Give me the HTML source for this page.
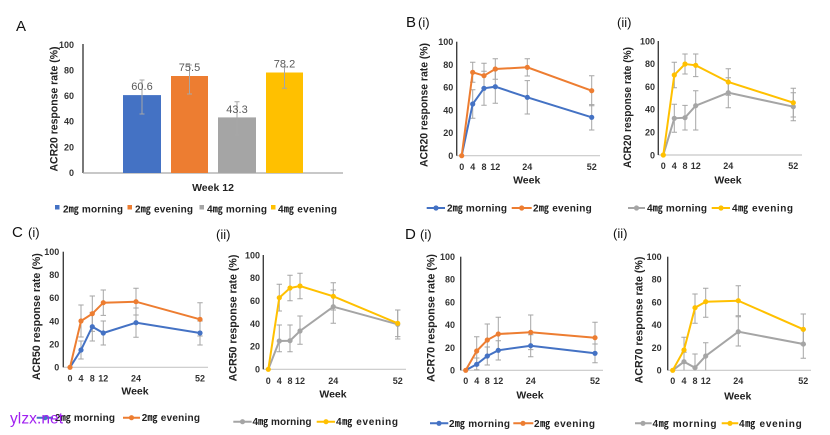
<!DOCTYPE html>
<html><head><meta charset="utf-8"><style>
html,body{margin:0;padding:0;background:#fff;}
svg{display:block;}
text{font-family:"Liberation Sans","Noto Sans CJK JP",sans-serif;}
.tk{font-size:9px;font-weight:bold;fill:#333;}
.yt{font-size:11px;font-weight:bold;fill:#222;}
.wk{font-size:10.5px;font-weight:bold;fill:#222;}
.lg{font-size:10px;font-weight:bold;fill:#222;}
.pl{font-size:15px;fill:#111;}
.pls{font-size:13px;fill:#111;}
.eb{stroke:#a6a6a6;stroke-width:1;fill:none;}
.ya{stroke:#404040;stroke-width:1.4;}
.xa{stroke:#c8c8c8;stroke-width:1.2;}
.vl{font-size:11px;fill:#595959;}
</style></head><body>
<svg width="830" height="435" viewBox="0 0 830 435" xmlns="http://www.w3.org/2000/svg">
<rect width="830" height="435" fill="#fff"/>

<!-- ===== Panel A ===== -->
<text class="pl" x="16" y="31">A</text>
<line class="ya" x1="83" y1="44" x2="83" y2="173"/>
<line x1="83" y1="173" x2="343" y2="173" stroke="#a6a6a6" stroke-width="1.2"/>
<g class="tk" text-anchor="end">
<text x="74" y="48">100</text><text x="74" y="73.5">80</text><text x="74" y="99">60</text>
<text x="74" y="124.7">40</text><text x="74" y="150.4">20</text><text x="74" y="176">0</text>
</g>
<text class="yt" transform="translate(57.5,109) rotate(-90)" text-anchor="middle" textLength="125" lengthAdjust="spacingAndGlyphs">ACR20 response rate (%)</text>
<rect x="123" y="95.1" width="38" height="77.9" fill="#4472c4"/>
<rect x="171" y="76" width="37" height="97" fill="#ed7d31"/>
<rect x="218" y="117.4" width="38" height="55.6" fill="#a5a5a5"/>
<rect x="266" y="72.5" width="37" height="100.5" fill="#ffc000"/>
<path class="eb" stroke="#707070" d="M142 80V114M139.5 80H144.5M139.5 114H144.5M189.5 65V94M187 65H192M187 94H192M237 101.7V135M234.5 101.7H239.5M234.5 135H239.5M284.5 67V88.3M282 67H287M282 88.3H287"/>
<g class="vl" text-anchor="middle">
<text x="142" y="90">60.6</text><text x="189.5" y="71">75.5</text><text x="237" y="113">43.3</text><text x="284.5" y="67.5">78.2</text>
</g>
<text class="wk" x="213" y="191" text-anchor="middle">Week 12</text>
<rect x="55" y="205" width="4.5" height="4.5" fill="#4472c4"/>
<text class="lg" x="63" y="212.5" textLength="60">2㎎ morning</text>
<rect x="127.5" y="205" width="4.5" height="4.5" fill="#ed7d31"/>
<text class="lg" x="135" y="212.5" textLength="58">2㎎ evening</text>
<rect x="199.5" y="205" width="4.5" height="4.5" fill="#a5a5a5"/>
<text class="lg" x="207" y="212.5" textLength="60">4㎎ morning</text>
<rect x="271" y="205" width="4.5" height="4.5" fill="#ffc000"/>
<text class="lg" x="278" y="212.5" textLength="59">4㎎ evening</text>

<!-- ===== Panel B(i) ===== -->
<text class="pl" x="406" y="27">B</text><text class="pls" x="418" y="27">(i)</text>
<line class="xa" x1="456.7" y1="155.7" x2="600" y2="155.7"/>
<line class="ya" x1="456.7" y1="41.7" x2="456.7" y2="155.7"/>
<g class="tk" text-anchor="end">
<text x="453.3" y="45">100</text><text x="453.3" y="67.8">80</text><text x="453.3" y="90.6">60</text>
<text x="453.3" y="113.4">40</text><text x="453.3" y="136.2">20</text><text x="453.3" y="159">0</text>
</g>
<g class="tk" text-anchor="middle">
<text x="461.7" y="170">0</text><text x="472.7" y="170">4</text><text x="484" y="170">8</text>
<text x="495.3" y="170">12</text><text x="527.3" y="170">24</text><text x="591.7" y="170">52</text>
</g>
<text class="wk" x="526.7" y="183.7" text-anchor="middle">Week</text>
<text class="yt" transform="translate(427.5,105) rotate(-90)" text-anchor="middle" textLength="124" lengthAdjust="spacingAndGlyphs">ACR20 response rate (%)</text>
<path class="eb" d="M472.7 62.3V82.3M470 62.3H475.4M470 82.3H475.4M484 63.3V88M481.3 63.3H486.7M481.3 88H486.7M495.3 58.7V79.3M492.6 58.7H498M492.6 79.3H498M527.3 58.7V76M524.6 58.7H530M524.6 76H530M591.7 75.7V105.7M589 75.7H594.4M589 105.7H594.4"/>
<path class="eb" d="M472.7 89.7V118.3M470 89.7H475.4M470 118.3H475.4M484 71.3V105.3M481.3 71.3H486.7M481.3 105.3H486.7M495.3 70V103.3M492.6 70H498M492.6 103.3H498M527.3 80.6V114M524.6 80.6H530M524.6 114H530M591.7 104.6V130M589 104.6H594.4M589 130H594.4"/>
<polyline fill="none" stroke="#4472c4" stroke-width="2" points="461.7,155.7 472.7,104 484,88.3 495.3,86.7 527.3,97.3 591.7,117.3"/>
<polyline fill="none" stroke="#ed7d31" stroke-width="2" points="461.7,155.7 472.7,72.3 484,75.7 495.3,69 527.3,67.3 591.7,90.7"/>
<g fill="#4472c4"><circle cx="472.7" cy="104" r="2.6"/><circle cx="484" cy="88.3" r="2.6"/><circle cx="495.3" cy="86.7" r="2.6"/><circle cx="527.3" cy="97.3" r="2.6"/><circle cx="591.7" cy="117.3" r="2.6"/></g>
<g fill="#ed7d31"><circle cx="461.7" cy="155.7" r="2.6"/><circle cx="472.7" cy="72.3" r="2.6"/><circle cx="484" cy="75.7" r="2.6"/><circle cx="495.3" cy="69" r="2.6"/><circle cx="527.3" cy="67.3" r="2.6"/><circle cx="591.7" cy="90.7" r="2.6"/></g>
<line x1="426.7" y1="208" x2="445" y2="208" stroke="#4472c4" stroke-width="2"/><circle cx="436" cy="208" r="2.6" fill="#4472c4"/>
<text class="lg" x="447" y="211.5" textLength="60">2㎎ morning</text>
<line x1="511.7" y1="208" x2="531.7" y2="208" stroke="#ed7d31" stroke-width="2"/><circle cx="521.7" cy="208" r="2.6" fill="#ed7d31"/>
<text class="lg" x="533" y="211.5" textLength="58.7">2㎎ evening</text>

<!-- ===== Panel B(ii) ===== -->
<text class="pls" x="617" y="27">(ii)</text>
<line class="xa" x1="658.3" y1="155" x2="802" y2="155"/>
<line class="ya" x1="658.3" y1="41" x2="658.3" y2="155"/>
<g class="tk" text-anchor="end">
<text x="655" y="44.3">100</text><text x="655" y="67.1">80</text><text x="655" y="89.9">60</text>
<text x="655" y="112.7">40</text><text x="655" y="135.5">20</text><text x="655" y="158.3">0</text>
</g>
<g class="tk" text-anchor="middle">
<text x="663.3" y="169">0</text><text x="674.3" y="169">4</text><text x="685" y="169">8</text>
<text x="695.7" y="169">12</text><text x="728.3" y="169">24</text><text x="793.3" y="169">52</text>
</g>
<text class="wk" x="728" y="183.7" text-anchor="middle">Week</text>
<text class="yt" transform="translate(631,107.5) rotate(-90)" text-anchor="middle" textLength="121" lengthAdjust="spacingAndGlyphs">ACR20 response rate (%)</text>
<path class="eb" d="M674.3 62.3V87.7M671.6 62.3H677M671.6 87.7H677M685 54V74M682.3 54H687.7M682.3 74H687.7M695.7 54V76.6M693 54H698.4M693 76.6H698.4M728.3 68.7V95.3M725.6 68.7H731M725.6 95.3H731M793.3 88.3V117M790.6 88.3H796M790.6 117H796"/>
<path class="eb" d="M674.3 104.3V132.3M671.6 104.3H677M671.6 132.3H677M685 105.4V130M682.3 105.4H687.7M682.3 130H687.7M695.7 90.7V130M693 90.7H698.4M693 130H698.4M728.3 77.7V107.7M725.6 77.7H731M725.6 107.7H731M793.3 92.7V120.7M790.6 92.7H796M790.6 120.7H796"/>
<polyline fill="none" stroke="#a5a5a5" stroke-width="2" points="663.3,155 674.3,118.3 685,117.7 695.7,105.7 728.3,92.7 793.3,106.7"/>
<polyline fill="none" stroke="#ffc000" stroke-width="2" points="663.3,155 674.3,75 685,64 695.7,65.3 728.3,82 793.3,102.7"/>
<g fill="#a5a5a5"><circle cx="674.3" cy="118.3" r="2.6"/><circle cx="685" cy="117.7" r="2.6"/><circle cx="695.7" cy="105.7" r="2.6"/><circle cx="728.3" cy="92.7" r="2.6"/><circle cx="793.3" cy="106.7" r="2.6"/></g>
<g fill="#ffc000"><circle cx="663.3" cy="155" r="2.6"/><circle cx="674.3" cy="75" r="2.6"/><circle cx="685" cy="64" r="2.6"/><circle cx="695.7" cy="65.3" r="2.6"/><circle cx="728.3" cy="82" r="2.6"/><circle cx="793.3" cy="102.7" r="2.6"/></g>
<line x1="628" y1="208" x2="645" y2="208" stroke="#a5a5a5" stroke-width="2"/><circle cx="636.5" cy="208" r="2.6" fill="#a5a5a5"/>
<text class="lg" x="647" y="211.5" textLength="60">4㎎ morning</text>
<line x1="711.7" y1="208" x2="730" y2="208" stroke="#ffc000" stroke-width="2"/><circle cx="721" cy="208" r="2.6" fill="#ffc000"/>
<text class="lg" x="732" y="211.5" textLength="61">4㎎ evening</text>

<!-- ===== Panel C(i) ===== -->
<text class="pl" x="12" y="237">C</text><text class="pls" x="28" y="237">(i)</text>
<line class="xa" x1="63.3" y1="367.3" x2="208" y2="367.3"/>
<line class="ya" x1="63.3" y1="251.7" x2="63.3" y2="367.3"/>
<g class="tk" text-anchor="end">
<text x="59.3" y="255">100</text><text x="59.3" y="278.1">80</text><text x="59.3" y="301.2">60</text>
<text x="59.3" y="324.4">40</text><text x="59.3" y="347.5">20</text><text x="59.3" y="370.6">0</text>
</g>
<g class="tk" text-anchor="middle">
<text x="70" y="381.7">0</text><text x="81" y="381.7">4</text><text x="92.3" y="381.7">8</text>
<text x="103.3" y="381.7">12</text><text x="136" y="381.7">24</text><text x="200" y="381.7">52</text>
</g>
<text class="wk" x="135" y="394.3" text-anchor="middle">Week</text>
<text class="yt" transform="translate(40,316.7) rotate(-90)" text-anchor="middle" textLength="127" lengthAdjust="spacingAndGlyphs">ACR50 response rate (%)</text>
<path class="eb" d="M81 305V337M78.3 305H83.7M78.3 337H83.7M92.3 296V331.4M89.6 296H95M89.6 331.4H95M103.3 290V315.4M100.6 290H106M100.6 315.4H106M136 288.3V315M133.3 288.3H138.7M133.3 315H138.7M200 302.7V336M197.3 302.7H202.7M197.3 336H202.7"/>
<path class="eb" d="M81 341V359M78.3 341H83.7M78.3 359H83.7M92.3 312.4V341M89.6 312.4H95M89.6 341H95M103.3 321V345M100.6 321H106M100.6 345H106M136 308V337.3M133.3 308H138.7M133.3 337.3H138.7M200 321V345M197.3 321H202.7M197.3 345H202.7"/>
<polyline fill="none" stroke="#4472c4" stroke-width="2" points="70,367.3 81,350 92.3,326.7 103.3,333 136,322.7 200,333"/>
<polyline fill="none" stroke="#ed7d31" stroke-width="2" points="70,367.3 81,321 92.3,313.7 103.3,302.7 136,301.7 200,319.3"/>
<g fill="#4472c4"><circle cx="81" cy="350" r="2.6"/><circle cx="92.3" cy="326.7" r="2.6"/><circle cx="103.3" cy="333" r="2.6"/><circle cx="136" cy="322.7" r="2.6"/><circle cx="200" cy="333" r="2.6"/></g>
<g fill="#ed7d31"><circle cx="70" cy="367.3" r="2.6"/><circle cx="81" cy="321" r="2.6"/><circle cx="92.3" cy="313.7" r="2.6"/><circle cx="103.3" cy="302.7" r="2.6"/><circle cx="136" cy="301.7" r="2.6"/><circle cx="200" cy="319.3" r="2.6"/></g>
<line x1="36.7" y1="417.7" x2="53" y2="417.7" stroke="#4472c4" stroke-width="2"/><circle cx="45" cy="417.7" r="2.6" fill="#4472c4"/>
<text class="lg" x="55" y="421.2" textLength="60">2㎎ morning</text>
<line x1="123" y1="417.7" x2="140" y2="417.7" stroke="#ed7d31" stroke-width="2"/><circle cx="131.5" cy="417.7" r="2.6" fill="#ed7d31"/>
<text class="lg" x="141.7" y="421.2" textLength="58.3">2㎎ evening</text>
<text x="10" y="423.5" font-size="15.5" fill="#a020f0" textLength="53">ylzx.net</text>

<!-- ===== Panel C(ii) ===== -->
<text class="pls" x="216" y="239">(ii)</text>
<line class="xa" x1="263.3" y1="369.3" x2="406" y2="369.3"/>
<line class="ya" x1="263.3" y1="255" x2="263.3" y2="369.3"/>
<g class="tk" text-anchor="end">
<text x="260" y="258.3">100</text><text x="260" y="281.2">80</text><text x="260" y="304">60</text>
<text x="260" y="326.9">40</text><text x="260" y="349.7">20</text><text x="260" y="372.6">0</text>
</g>
<g class="tk" text-anchor="middle">
<text x="268.3" y="384">0</text><text x="279.3" y="384">4</text><text x="290" y="384">8</text>
<text x="300" y="384">12</text><text x="333.3" y="384">24</text><text x="397.7" y="384">52</text>
</g>
<text class="wk" x="333" y="397.7" text-anchor="middle">Week</text>
<text class="yt" transform="translate(236.5,318) rotate(-90)" text-anchor="middle" textLength="126.7" lengthAdjust="spacingAndGlyphs">ACR50 response rate (%)</text>
<path class="eb" d="M279.3 284.3V311M276.6 284.3H282M276.6 311H282M290 275.3V300.7M287.3 275.3H292.7M287.3 300.7H292.7M300 273.3V298.7M297.3 273.3H302.7M297.3 298.7H302.7M333.3 282.7V310M330.6 282.7H336M330.6 310H336M397.7 310V336.6M395 310H400.4M395 336.6H400.4"/>
<path class="eb" d="M279.3 325V351.7M276.6 325H282M276.6 351.7H282M290 325V351.7M287.3 325H292.7M287.3 351.7H292.7M300 316V344.3M297.3 316H302.7M297.3 344.3H302.7M333.3 290V323.3M330.6 290H336M330.6 323.3H336M397.7 310V339M395 310H400.4M395 339H400.4"/>
<polyline fill="none" stroke="#a5a5a5" stroke-width="2" points="268.3,369.3 279.3,341 290,340.7 300,331 333.3,306.7 397.7,324.3"/>
<polyline fill="none" stroke="#ffc000" stroke-width="2" points="268.3,369.3 279.3,297.7 290,288 300,286 333.3,296.3 397.7,323.3"/>
<g fill="#a5a5a5"><circle cx="279.3" cy="341" r="2.6"/><circle cx="290" cy="340.7" r="2.6"/><circle cx="300" cy="331" r="2.6"/><circle cx="333.3" cy="306.7" r="2.6"/><circle cx="397.7" cy="324.3" r="2.6"/></g>
<g fill="#ffc000"><circle cx="268.3" cy="369.3" r="2.6"/><circle cx="279.3" cy="297.7" r="2.6"/><circle cx="290" cy="288" r="2.6"/><circle cx="300" cy="286" r="2.6"/><circle cx="333.3" cy="296.3" r="2.6"/><circle cx="397.7" cy="323.3" r="2.6"/></g>
<line x1="233.3" y1="421.7" x2="251.7" y2="421.7" stroke="#a5a5a5" stroke-width="2"/><circle cx="242.5" cy="421.7" r="2.6" fill="#a5a5a5"/>
<text class="lg" x="252.5" y="425.2" textLength="59">4㎎ morning</text>
<line x1="316.7" y1="421.7" x2="335" y2="421.7" stroke="#ffc000" stroke-width="2"/><circle cx="326" cy="421.7" r="2.6" fill="#ffc000"/>
<text class="lg" x="336" y="425.2" textLength="62">4㎎ evening</text>

<!-- ===== Panel D(i) ===== -->
<text class="pl" x="405" y="239">D</text><text class="pls" x="420" y="239">(i)</text>
<line class="xa" x1="460.7" y1="370.3" x2="603" y2="370.3"/>
<line class="ya" x1="460.7" y1="256.7" x2="460.7" y2="370.3"/>
<g class="tk" text-anchor="end">
<text x="455" y="260">100</text><text x="455" y="282.7">80</text><text x="455" y="305.4">60</text>
<text x="455" y="328.2">40</text><text x="455" y="350.9">20</text><text x="455" y="373.6">0</text>
</g>
<g class="tk" text-anchor="middle">
<text x="465.7" y="384">0</text><text x="476.7" y="384">4</text><text x="487.3" y="384">8</text>
<text x="498.3" y="384">12</text><text x="530.7" y="384">24</text><text x="595" y="384">52</text>
</g>
<text class="wk" x="530" y="398.7" text-anchor="middle">Week</text>
<text class="yt" transform="translate(434.5,318) rotate(-90)" text-anchor="middle" textLength="128" lengthAdjust="spacingAndGlyphs">ACR70 response rate (%)</text>
<path class="eb" d="M476.7 336.7V365.3M474 336.7H479.4M474 365.3H479.4M487.3 324V356M484.6 324H490M484.6 356H490M498.3 317.3V350.7M495.6 317.3H501M495.6 350.7H501M530.7 315V349.6M528 315H533.4M528 349.6H533.4M595 322.3V353M592.3 322.3H597.7M592.3 353H597.7"/>
<path class="eb" d="M476.7 358V369.7M474 358H479.4M474 369.7H479.4M487.3 347V365M484.6 347H490M484.6 365H490M498.3 340.7V360M495.6 340.7H501M495.6 360H501M530.7 334.7V356.7M528 334.7H533.4M528 356.7H533.4M595 344V362.7M592.3 344H597.7M592.3 362.7H597.7"/>
<polyline fill="none" stroke="#4472c4" stroke-width="2" points="465.7,370.3 476.7,364.3 487.3,356 498.3,350.3 530.7,345.7 595,353.3"/>
<polyline fill="none" stroke="#ed7d31" stroke-width="2" points="465.7,370.3 476.7,351 487.3,340 498.3,334 530.7,332.3 595,337.7"/>
<g fill="#4472c4"><circle cx="476.7" cy="364.3" r="2.6"/><circle cx="487.3" cy="356" r="2.6"/><circle cx="498.3" cy="350.3" r="2.6"/><circle cx="530.7" cy="345.7" r="2.6"/><circle cx="595" cy="353.3" r="2.6"/></g>
<g fill="#ed7d31"><circle cx="465.7" cy="370.3" r="2.6"/><circle cx="476.7" cy="351" r="2.6"/><circle cx="487.3" cy="340" r="2.6"/><circle cx="498.3" cy="334" r="2.6"/><circle cx="530.7" cy="332.3" r="2.6"/><circle cx="595" cy="337.7" r="2.6"/></g>
<line x1="430" y1="423.3" x2="448.3" y2="423.3" stroke="#4472c4" stroke-width="2"/><circle cx="439" cy="423.3" r="2.6" fill="#4472c4"/>
<text class="lg" x="449" y="426.8" textLength="61">2㎎ morning</text>
<line x1="513.3" y1="423.3" x2="533.3" y2="423.3" stroke="#ed7d31" stroke-width="2"/><circle cx="523" cy="423.3" r="2.6" fill="#ed7d31"/>
<text class="lg" x="534" y="426.8" textLength="61">2㎎ evening</text>

<!-- ===== Panel D(ii) ===== -->
<text class="pls" x="613" y="238">(ii)</text>
<line class="xa" x1="667.7" y1="370.3" x2="811" y2="370.3"/>
<line class="ya" x1="667.7" y1="256.7" x2="667.7" y2="370.3"/>
<g class="tk" text-anchor="end">
<text x="661.7" y="260">100</text><text x="661.7" y="282.7">80</text><text x="661.7" y="305.4">60</text>
<text x="661.7" y="328.2">40</text><text x="661.7" y="350.9">20</text><text x="661.7" y="373.6">0</text>
</g>
<g class="tk" text-anchor="middle">
<text x="672.7" y="384">0</text><text x="684" y="384">4</text><text x="695" y="384">8</text>
<text x="705.7" y="384">12</text><text x="738.3" y="384">24</text><text x="803.3" y="384">52</text>
</g>
<text class="wk" x="737.7" y="399.3" text-anchor="middle">Week</text>
<text class="yt" transform="translate(642.5,320) rotate(-90)" text-anchor="middle" textLength="126.7" lengthAdjust="spacingAndGlyphs">ACR70 response rate (%)</text>
<path class="eb" d="M684 337.3V362.7M681.3 337.3H686.7M681.3 362.7H686.7M695 294V323.3M692.3 294H697.7M692.3 323.3H697.7M705.7 288.3V317.3M703 288.3H708.4M703 317.3H708.4M738.3 285.7V315.7M735.6 285.7H741M735.6 315.7H741M803.3 314V344.7M800.6 314H806M800.6 344.7H806"/>
<path class="eb" d="M684 352.3V370.3M681.3 352.3H686.7M695 354V370.3M692.3 354H697.7M705.7 342.7V370.3M703 342.7H708.4M738.3 316.7V346M735.6 316.7H741M735.6 346H741M803.3 329.7V358.3M800.6 329.7H806M800.6 358.3H806"/>
<polyline fill="none" stroke="#a5a5a5" stroke-width="2" points="672.7,370.3 684,361.7 695,367.7 705.7,356 738.3,331.7 803.3,344"/>
<polyline fill="none" stroke="#ffc000" stroke-width="2" points="672.7,370.3 684,350 695,307.7 705.7,301.7 738.3,300.7 803.3,329.3"/>
<g fill="#a5a5a5"><circle cx="684" cy="361.7" r="2.6"/><circle cx="695" cy="367.7" r="2.6"/><circle cx="705.7" cy="356" r="2.6"/><circle cx="738.3" cy="331.7" r="2.6"/><circle cx="803.3" cy="344" r="2.6"/></g>
<g fill="#ffc000"><circle cx="672.7" cy="370.3" r="2.6"/><circle cx="684" cy="350" r="2.6"/><circle cx="695" cy="307.7" r="2.6"/><circle cx="705.7" cy="301.7" r="2.6"/><circle cx="738.3" cy="300.7" r="2.6"/><circle cx="803.3" cy="329.3" r="2.6"/></g>
<line x1="635" y1="423.3" x2="651.7" y2="423.3" stroke="#a5a5a5" stroke-width="2"/><circle cx="643" cy="423.3" r="2.6" fill="#a5a5a5"/>
<text class="lg" x="652.5" y="426.8" textLength="64">4㎎ morning</text>
<line x1="721.7" y1="423.3" x2="738.3" y2="423.3" stroke="#ffc000" stroke-width="2"/><circle cx="730" cy="423.3" r="2.6" fill="#ffc000"/>
<text class="lg" x="739" y="426.8" textLength="62.7">4㎎ evening</text>
</svg>
</body></html>
